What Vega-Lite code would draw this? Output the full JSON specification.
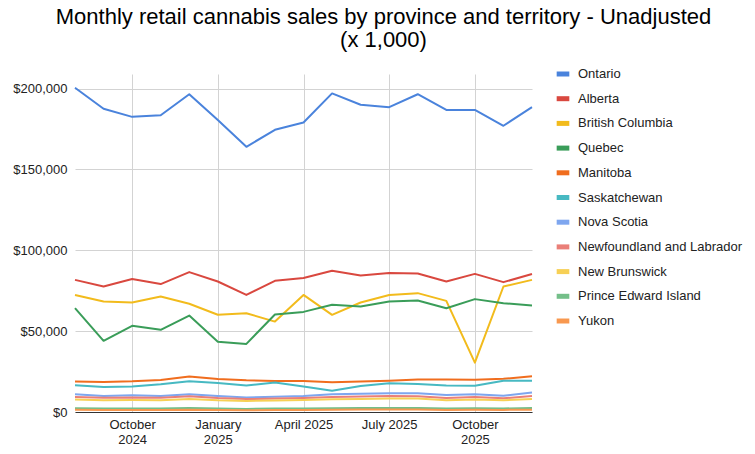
{
  "$schema": "https://vega.github.io/schema/vega-lite/v6.json",
  "width": 457,
  "height": 338,
  "autosize": {"type": "none"},
  "padding": {"left": 75, "top": 74, "right": 223, "bottom": 42},
  "background": "white",
  "config": {
    "font": "Liberation Sans",
    "view": {"stroke": null}
  },
  "title": {
    "text": ["Monthly retail cannabis sales by province and territory - Unadjusted", "(x 1,000)"],
    "font": "Liberation Sans",
    "fontSize": 22,
    "fontWeight": "normal",
    "color": "#000000",
    "anchor": "middle",
    "dx": 80,
    "offset": 13,
    "lineHeight": 23
  },
  "data": {
    "values": [
      {"month": "2024-08", "province": "Ontario", "sales": 200500},
      {"month": "2024-09", "province": "Ontario", "sales": 187500},
      {"month": "2024-10", "province": "Ontario", "sales": 182500},
      {"month": "2024-11", "province": "Ontario", "sales": 183500},
      {"month": "2024-12", "province": "Ontario", "sales": 196500},
      {"month": "2025-01", "province": "Ontario", "sales": 180500},
      {"month": "2025-02", "province": "Ontario", "sales": 164000},
      {"month": "2025-03", "province": "Ontario", "sales": 174500},
      {"month": "2025-04", "province": "Ontario", "sales": 179000},
      {"month": "2025-05", "province": "Ontario", "sales": 197000},
      {"month": "2025-06", "province": "Ontario", "sales": 190000},
      {"month": "2025-07", "province": "Ontario", "sales": 188500},
      {"month": "2025-08", "province": "Ontario", "sales": 196500},
      {"month": "2025-09", "province": "Ontario", "sales": 186800},
      {"month": "2025-10", "province": "Ontario", "sales": 186800},
      {"month": "2025-11", "province": "Ontario", "sales": 177000},
      {"month": "2025-12", "province": "Ontario", "sales": 188500},

      {"month": "2024-08", "province": "Alberta", "sales": 81700},
      {"month": "2024-09", "province": "Alberta", "sales": 77600},
      {"month": "2024-10", "province": "Alberta", "sales": 82200},
      {"month": "2024-11", "province": "Alberta", "sales": 79100},
      {"month": "2024-12", "province": "Alberta", "sales": 86500},
      {"month": "2025-01", "province": "Alberta", "sales": 80700},
      {"month": "2025-02", "province": "Alberta", "sales": 72400},
      {"month": "2025-03", "province": "Alberta", "sales": 81100},
      {"month": "2025-04", "province": "Alberta", "sales": 82800},
      {"month": "2025-05", "province": "Alberta", "sales": 87300},
      {"month": "2025-06", "province": "Alberta", "sales": 84400},
      {"month": "2025-07", "province": "Alberta", "sales": 85900},
      {"month": "2025-08", "province": "Alberta", "sales": 85600},
      {"month": "2025-09", "province": "Alberta", "sales": 80700},
      {"month": "2025-10", "province": "Alberta", "sales": 85400},
      {"month": "2025-11", "province": "Alberta", "sales": 80300},
      {"month": "2025-12", "province": "Alberta", "sales": 85300},

      {"month": "2024-08", "province": "British Columbia", "sales": 72400},
      {"month": "2024-09", "province": "British Columbia", "sales": 68300},
      {"month": "2024-10", "province": "British Columbia", "sales": 67700},
      {"month": "2024-11", "province": "British Columbia", "sales": 71400},
      {"month": "2024-12", "province": "British Columbia", "sales": 66900},
      {"month": "2025-01", "province": "British Columbia", "sales": 60100},
      {"month": "2025-02", "province": "British Columbia", "sales": 61100},
      {"month": "2025-03", "province": "British Columbia", "sales": 55900},
      {"month": "2025-04", "province": "British Columbia", "sales": 72400},
      {"month": "2025-05", "province": "British Columbia", "sales": 60100},
      {"month": "2025-06", "province": "British Columbia", "sales": 67700},
      {"month": "2025-07", "province": "British Columbia", "sales": 72400},
      {"month": "2025-08", "province": "British Columbia", "sales": 73500},
      {"month": "2025-09", "province": "British Columbia", "sales": 68700},
      {"month": "2025-10", "province": "British Columbia", "sales": 30500},
      {"month": "2025-11", "province": "British Columbia", "sales": 77600},
      {"month": "2025-12", "province": "British Columbia", "sales": 81700},

      {"month": "2024-08", "province": "Quebec", "sales": 64200},
      {"month": "2024-09", "province": "Quebec", "sales": 44000},
      {"month": "2024-10", "province": "Quebec", "sales": 53300},
      {"month": "2024-11", "province": "Quebec", "sales": 50800},
      {"month": "2024-12", "province": "Quebec", "sales": 59600},
      {"month": "2025-01", "province": "Quebec", "sales": 43500},
      {"month": "2025-02", "province": "Quebec", "sales": 42100},
      {"month": "2025-03", "province": "Quebec", "sales": 60300},
      {"month": "2025-04", "province": "Quebec", "sales": 61900},
      {"month": "2025-05", "province": "Quebec", "sales": 66300},
      {"month": "2025-06", "province": "Quebec", "sales": 65200},
      {"month": "2025-07", "province": "Quebec", "sales": 68300},
      {"month": "2025-08", "province": "Quebec", "sales": 68900},
      {"month": "2025-09", "province": "Quebec", "sales": 64200},
      {"month": "2025-10", "province": "Quebec", "sales": 69800},
      {"month": "2025-11", "province": "Quebec", "sales": 67300},
      {"month": "2025-12", "province": "Quebec", "sales": 65800},

      {"month": "2024-08", "province": "Manitoba", "sales": 18800},
      {"month": "2024-09", "province": "Manitoba", "sales": 18600},
      {"month": "2024-10", "province": "Manitoba", "sales": 19000},
      {"month": "2024-11", "province": "Manitoba", "sales": 19800},
      {"month": "2024-12", "province": "Manitoba", "sales": 21900},
      {"month": "2025-01", "province": "Manitoba", "sales": 20400},
      {"month": "2025-02", "province": "Manitoba", "sales": 19600},
      {"month": "2025-03", "province": "Manitoba", "sales": 19200},
      {"month": "2025-04", "province": "Manitoba", "sales": 19200},
      {"month": "2025-05", "province": "Manitoba", "sales": 18400},
      {"month": "2025-06", "province": "Manitoba", "sales": 18800},
      {"month": "2025-07", "province": "Manitoba", "sales": 19400},
      {"month": "2025-08", "province": "Manitoba", "sales": 20100},
      {"month": "2025-09", "province": "Manitoba", "sales": 20100},
      {"month": "2025-10", "province": "Manitoba", "sales": 19900},
      {"month": "2025-11", "province": "Manitoba", "sales": 20500},
      {"month": "2025-12", "province": "Manitoba", "sales": 22100},

      {"month": "2024-08", "province": "Saskatchewan", "sales": 16500},
      {"month": "2024-09", "province": "Saskatchewan", "sales": 15500},
      {"month": "2024-10", "province": "Saskatchewan", "sales": 15800},
      {"month": "2024-11", "province": "Saskatchewan", "sales": 17100},
      {"month": "2024-12", "province": "Saskatchewan", "sales": 19000},
      {"month": "2025-01", "province": "Saskatchewan", "sales": 18000},
      {"month": "2025-02", "province": "Saskatchewan", "sales": 16400},
      {"month": "2025-03", "province": "Saskatchewan", "sales": 18300},
      {"month": "2025-04", "province": "Saskatchewan", "sales": 15800},
      {"month": "2025-05", "province": "Saskatchewan", "sales": 13200},
      {"month": "2025-06", "province": "Saskatchewan", "sales": 16100},
      {"month": "2025-07", "province": "Saskatchewan", "sales": 17800},
      {"month": "2025-08", "province": "Saskatchewan", "sales": 17300},
      {"month": "2025-09", "province": "Saskatchewan", "sales": 16400},
      {"month": "2025-10", "province": "Saskatchewan", "sales": 16200},
      {"month": "2025-11", "province": "Saskatchewan", "sales": 19300},
      {"month": "2025-12", "province": "Saskatchewan", "sales": 19400},

      {"month": "2024-08", "province": "Nova Scotia", "sales": 11000},
      {"month": "2024-09", "province": "Nova Scotia", "sales": 9900},
      {"month": "2024-10", "province": "Nova Scotia", "sales": 10300},
      {"month": "2024-11", "province": "Nova Scotia", "sales": 9900},
      {"month": "2024-12", "province": "Nova Scotia", "sales": 11000},
      {"month": "2025-01", "province": "Nova Scotia", "sales": 9900},
      {"month": "2025-02", "province": "Nova Scotia", "sales": 8900},
      {"month": "2025-03", "province": "Nova Scotia", "sales": 9500},
      {"month": "2025-04", "province": "Nova Scotia", "sales": 9900},
      {"month": "2025-05", "province": "Nova Scotia", "sales": 11000},
      {"month": "2025-06", "province": "Nova Scotia", "sales": 11300},
      {"month": "2025-07", "province": "Nova Scotia", "sales": 11600},
      {"month": "2025-08", "province": "Nova Scotia", "sales": 11600},
      {"month": "2025-09", "province": "Nova Scotia", "sales": 10500},
      {"month": "2025-10", "province": "Nova Scotia", "sales": 11000},
      {"month": "2025-11", "province": "Nova Scotia", "sales": 10100},
      {"month": "2025-12", "province": "Nova Scotia", "sales": 12000},

      {"month": "2024-08", "province": "Newfoundland and Labrador", "sales": 9300},
      {"month": "2024-09", "province": "Newfoundland and Labrador", "sales": 8800},
      {"month": "2024-10", "province": "Newfoundland and Labrador", "sales": 9000},
      {"month": "2024-11", "province": "Newfoundland and Labrador", "sales": 8800},
      {"month": "2024-12", "province": "Newfoundland and Labrador", "sales": 9800},
      {"month": "2025-01", "province": "Newfoundland and Labrador", "sales": 8700},
      {"month": "2025-02", "province": "Newfoundland and Labrador", "sales": 8000},
      {"month": "2025-03", "province": "Newfoundland and Labrador", "sales": 8300},
      {"month": "2025-04", "province": "Newfoundland and Labrador", "sales": 8700},
      {"month": "2025-05", "province": "Newfoundland and Labrador", "sales": 9300},
      {"month": "2025-06", "province": "Newfoundland and Labrador", "sales": 9600},
      {"month": "2025-07", "province": "Newfoundland and Labrador", "sales": 9900},
      {"month": "2025-08", "province": "Newfoundland and Labrador", "sales": 9800},
      {"month": "2025-09", "province": "Newfoundland and Labrador", "sales": 8600},
      {"month": "2025-10", "province": "Newfoundland and Labrador", "sales": 9200},
      {"month": "2025-11", "province": "Newfoundland and Labrador", "sales": 8500},
      {"month": "2025-12", "province": "Newfoundland and Labrador", "sales": 9900},

      {"month": "2024-08", "province": "New Brunswick", "sales": 7800},
      {"month": "2024-09", "province": "New Brunswick", "sales": 7200},
      {"month": "2024-10", "province": "New Brunswick", "sales": 7400},
      {"month": "2024-11", "province": "New Brunswick", "sales": 7300},
      {"month": "2024-12", "province": "New Brunswick", "sales": 8100},
      {"month": "2025-01", "province": "New Brunswick", "sales": 7200},
      {"month": "2025-02", "province": "New Brunswick", "sales": 6800},
      {"month": "2025-03", "province": "New Brunswick", "sales": 7100},
      {"month": "2025-04", "province": "New Brunswick", "sales": 7400},
      {"month": "2025-05", "province": "New Brunswick", "sales": 7900},
      {"month": "2025-06", "province": "New Brunswick", "sales": 8100},
      {"month": "2025-07", "province": "New Brunswick", "sales": 8400},
      {"month": "2025-08", "province": "New Brunswick", "sales": 8400},
      {"month": "2025-09", "province": "New Brunswick", "sales": 7300},
      {"month": "2025-10", "province": "New Brunswick", "sales": 7800},
      {"month": "2025-11", "province": "New Brunswick", "sales": 7200},
      {"month": "2025-12", "province": "New Brunswick", "sales": 8100},

      {"month": "2024-08", "province": "Prince Edward Island", "sales": 2300},
      {"month": "2024-09", "province": "Prince Edward Island", "sales": 2200},
      {"month": "2024-10", "province": "Prince Edward Island", "sales": 2200},
      {"month": "2024-11", "province": "Prince Edward Island", "sales": 2100},
      {"month": "2024-12", "province": "Prince Edward Island", "sales": 2400},
      {"month": "2025-01", "province": "Prince Edward Island", "sales": 2100},
      {"month": "2025-02", "province": "Prince Edward Island", "sales": 1900},
      {"month": "2025-03", "province": "Prince Edward Island", "sales": 2100},
      {"month": "2025-04", "province": "Prince Edward Island", "sales": 2200},
      {"month": "2025-05", "province": "Prince Edward Island", "sales": 2300},
      {"month": "2025-06", "province": "Prince Edward Island", "sales": 2400},
      {"month": "2025-07", "province": "Prince Edward Island", "sales": 2500},
      {"month": "2025-08", "province": "Prince Edward Island", "sales": 2500},
      {"month": "2025-09", "province": "Prince Edward Island", "sales": 2200},
      {"month": "2025-10", "province": "Prince Edward Island", "sales": 2300},
      {"month": "2025-11", "province": "Prince Edward Island", "sales": 2200},
      {"month": "2025-12", "province": "Prince Edward Island", "sales": 2400},

      {"month": "2024-08", "province": "Yukon", "sales": 1400},
      {"month": "2024-09", "province": "Yukon", "sales": 1300},
      {"month": "2024-10", "province": "Yukon", "sales": 1300},
      {"month": "2024-11", "province": "Yukon", "sales": 1200},
      {"month": "2024-12", "province": "Yukon", "sales": 1400},
      {"month": "2025-01", "province": "Yukon", "sales": 1200},
      {"month": "2025-02", "province": "Yukon", "sales": 1100},
      {"month": "2025-03", "province": "Yukon", "sales": 1200},
      {"month": "2025-04", "province": "Yukon", "sales": 1300},
      {"month": "2025-05", "province": "Yukon", "sales": 1400},
      {"month": "2025-06", "province": "Yukon", "sales": 1500},
      {"month": "2025-07", "province": "Yukon", "sales": 1500},
      {"month": "2025-08", "province": "Yukon", "sales": 1500},
      {"month": "2025-09", "province": "Yukon", "sales": 1300},
      {"month": "2025-10", "province": "Yukon", "sales": 1400},
      {"month": "2025-11", "province": "Yukon", "sales": 1300},
      {"month": "2025-12", "province": "Yukon", "sales": 1400}
    ]
  },
  "mark": {"type": "line", "strokeWidth": 2, "strokeJoin": "round"},
  "encoding": {
    "x": {
      "field": "month",
      "type": "ordinal",
      "sort": "ascending",
      "scale": {"type": "point", "padding": 0},
      "axis": {
        "title": null,
        "values": ["2024-10", "2025-01", "2025-04", "2025-07", "2025-10"],
        "labelExpr": "datum.value == '2024-10' ? ['October', '2024'] : datum.value == '2025-01' ? ['January', '2025'] : datum.value == '2025-04' ? 'April 2025' : datum.value == '2025-07' ? 'July 2025' : ['October', '2025']",
        "labelAngle": 0,
        "labelFont": "Liberation Sans",
        "labelFontSize": 13,
        "labelColor": "#222222",
        "labelPadding": 6,
        "labelLineHeight": 15,
        "labelBaseline": "top",
        "ticks": false,
        "grid": true,
        "gridColor": "#d3d3d3",
        "gridWidth": 1,
        "domain": true,
        "domainColor": "#333333",
        "domainWidth": 1
      }
    },
    "y": {
      "field": "sales",
      "type": "quantitative",
      "scale": {"domain": [0, 209000], "nice": false},
      "axis": {
        "title": null,
        "values": [0, 50000, 100000, 150000, 200000],
        "format": "$,.0f",
        "labelFont": "Liberation Sans",
        "labelFontSize": 13,
        "labelColor": "#222222",
        "labelPadding": 8,
        "ticks": false,
        "domain": false,
        "grid": true,
        "gridColor": "#d3d3d3",
        "gridWidth": 1
      }
    },
    "color": {
      "field": "province",
      "type": "nominal",
      "sort": ["Ontario", "Alberta", "British Columbia", "Quebec", "Manitoba", "Saskatchewan", "Nova Scotia", "Newfoundland and Labrador", "New Brunswick", "Prince Edward Island", "Yukon"],
      "scale": {
        "domain": ["Ontario", "Alberta", "British Columbia", "Quebec", "Manitoba", "Saskatchewan", "Nova Scotia", "Newfoundland and Labrador", "New Brunswick", "Prince Edward Island", "Yukon"],
        "range": ["#4a83dc", "#d9483f", "#f2bb1c", "#3a9d59", "#f06d1e", "#47b9c2", "#7ea6ef", "#ea7f78", "#f7d055", "#74bf89", "#f8984f"]
      },
      "legend": {
        "title": null,
        "orient": "none",
        "legendX": 479,
        "legendY": -9,
        "symbolType": "stroke",
        "symbolSize": 160,
        "symbolStrokeWidth": 5,
        "labelFont": "Liberation Sans",
        "labelFontSize": 13,
        "labelColor": "#222222",
        "labelOffset": 6,
        "labelLimit": 0,
        "rowPadding": 4.7,
        "padding": 0
      }
    }
  }
}
